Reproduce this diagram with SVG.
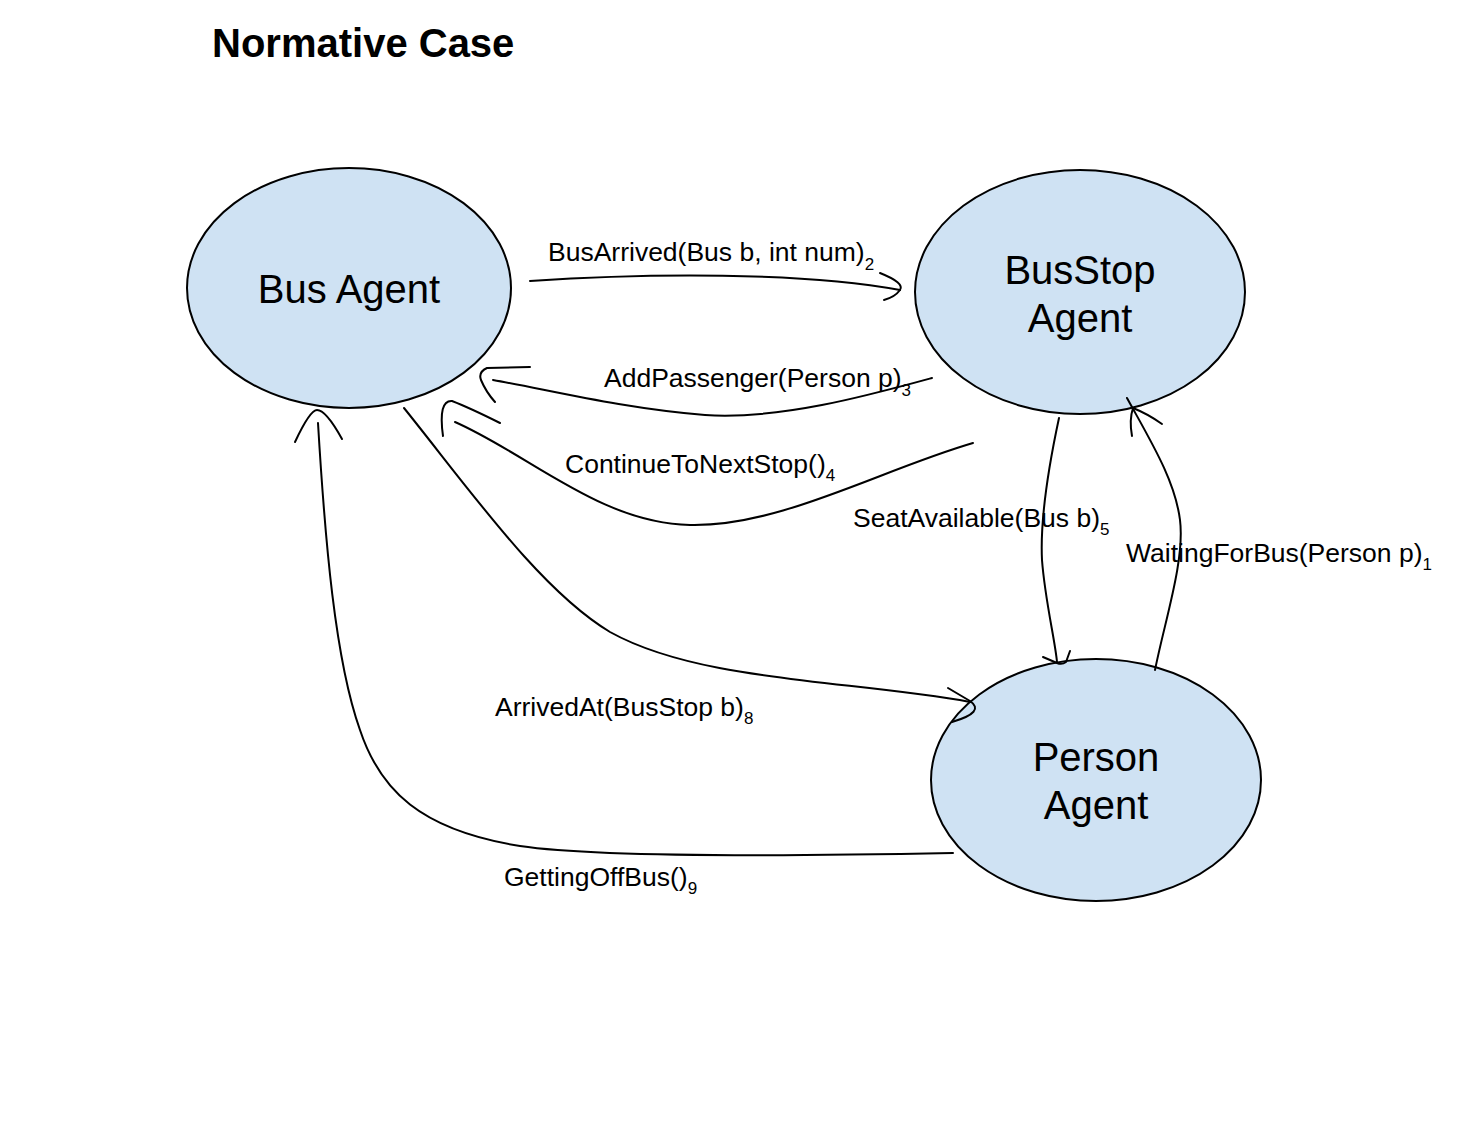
<svg xmlns="http://www.w3.org/2000/svg" width="1484" height="1133" viewBox="0 0 1484 1133">
<style>
.node{fill:#cfe2f3;stroke:#000;stroke-width:2}
.nl{font-family:"Liberation Sans",Arial,sans-serif;font-size:40px;fill:#000;text-anchor:middle}
.el{font-family:"Liberation Sans",Arial,sans-serif;font-size:26.5px;fill:#000}
.sub{font-size:17px}
.c{fill:none;stroke:#000;stroke-width:2;stroke-linecap:round;stroke-linejoin:round}
</style>
<rect width="1484" height="1133" fill="#fff"/>
<text x="212" y="57" font-family="Liberation Sans, Arial, sans-serif" font-size="40" font-weight="bold">Normative Case</text>
<g id="bus-agent">
<ellipse class="node" cx="349" cy="288" rx="162" ry="120"/>
<text class="nl" x="349" y="303">Bus Agent</text>
</g>
<g id="busstop-agent">
<ellipse class="node" cx="1080" cy="292" rx="165" ry="122"/>
<text class="nl" x="1080" y="284">BusStop</text>
<text class="nl" x="1080" y="332">Agent</text>
</g>
<g id="person-agent">
<ellipse class="node" cx="1096" cy="780" rx="165" ry="121"/>
<text class="nl" x="1096" y="771">Person</text>
<text class="nl" x="1096" y="819">Agent</text>
</g>
<g id="connectors">
<path class="c" d="M530,281 C650,273 800,272 900,290"/>
<path class="c" d="M880,273 Q905,283 900,290 Q895,297 884,300"/>
<path class="c" d="M932,378 C870,395 780,420 705,415 C620,408 550,390 493,380"/>
<path class="c" d="M530,367 L487,368 Q478,372 481,380 Q486,392 495,402"/>
<path class="c" d="M973,443 C880,470 780,527 690,525 C600,523 530,455 455,422"/>
<path class="c" d="M443,436 Q438,400 452,401 Q470,408 500,423"/>
<path class="c" d="M404,408 C470,490 540,590 610,632 C700,682 850,680 970,702"/>
<path class="c" d="M948,688 L970,701 Q986,712 952,722"/>
<path class="c" d="M953,853 C800,856 600,858 520,846 C420,830 380,790 360,730 C335,660 325,540 318,423"/>
<path class="c" d="M295,442 Q310,410 317,410 Q326,410 342,439"/>
<path class="c" d="M1059,418 C1050,460 1040,520 1042,560 C1045,600 1055,640 1057,662"/>
<path class="c" d="M1043,657 L1057,663 Q1062,665 1066,662 L1070,651"/>
<path class="c" d="M1155,670 C1165,620 1185,560 1180,520 C1175,480 1150,440 1127,398"/>
<path class="c" d="M1132,436 Q1129,420 1133,408 Q1148,414 1162,424"/>
</g>
<g id="labels">
<text class="el" x="548" y="261">BusArrived(Bus b, int num)<tspan class="sub" dy="9">2</tspan></text>
<text class="el" x="604" y="387">AddPassenger(Person p)<tspan class="sub" dy="9">3</tspan></text>
<text class="el" x="565" y="473">ContinueToNextStop()<tspan class="sub" dy="8">4</tspan></text>
<text class="el" x="853" y="527">SeatAvailable(Bus b)<tspan class="sub" dy="8">5</tspan></text>
<text class="el" x="1126" y="562">WaitingForBus(Person p)<tspan class="sub" dy="8">1</tspan></text>
<text class="el" x="495" y="716">ArrivedAt(BusStop b)<tspan class="sub" dy="8">8</tspan></text>
<text class="el" x="504" y="886">GettingOffBus()<tspan class="sub" dy="8">9</tspan></text>
</g>
</svg>
